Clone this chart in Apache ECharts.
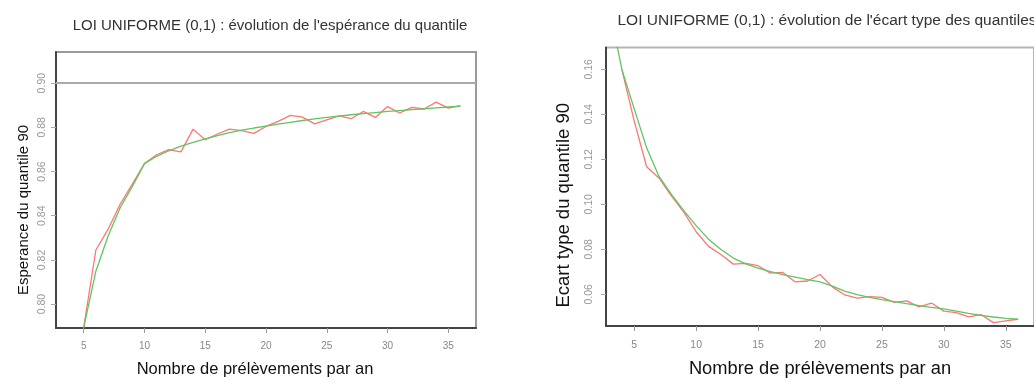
<!DOCTYPE html>
<html><head><meta charset="utf-8">
<script src="https://cdn.jsdelivr.net/npm/echarts@6/dist/echarts.min.js"></script>
<style>html,body{margin:0;padding:0;background:#fff}#c{width:1034px;height:383px}</style>
</head><body><div id="c"></div>
<script>
// ---- data ----
const leftTitle = "LOI UNIFORME (0,1) : évolution de l'espérance du quantile";
const rightTitle = "LOI UNIFORME (0,1) : évolution de l'écart type des quantiles";
const xName = "Nombre de prélèvements par an";
const leftYName = "Esperance du quantile 90";
const rightYName = "Ecart type du quantile 90";

const xTicks = [5, 10, 15, 20, 25, 30, 35];
const leftYTicks = [0.80, 0.82, 0.84, 0.86, 0.88, 0.90];
const rightYTicks = [0.06, 0.08, 0.10, 0.12, 0.14, 0.16];

const leftX = [5,6,7,8,9,10,11,12,13,14,15,16,17,18,19,20,21,22,23,24,25,26,27,28,29,30,31,32,33,34,35,36];
const leftRed = [0.7894,0.8245,0.8338,0.8452,0.8543,0.8636,0.8676,0.8699,0.8689,0.8792,0.8744,0.8770,0.8792,0.8785,0.8773,0.8804,0.8827,0.8854,0.8846,0.8816,0.8834,0.8852,0.8839,0.8872,0.8845,0.8894,0.8865,0.8890,0.8883,0.8914,0.8887,0.8898];
const leftGreen = [0.7894,0.8149,0.8307,0.8436,0.8533,0.8636,0.8669,0.8694,0.8715,0.8732,0.8748,0.8763,0.8776,0.8787,0.8797,0.8806,0.8815,0.8823,0.8831,0.8838,0.8845,0.8851,0.8857,0.8862,0.8867,0.8872,0.8876,0.8880,0.8884,0.8888,0.8892,0.8896];
const leftRef = [0.90];

const rightRedX = [4,5,6,7,8,9,10,11,12,13,14,15,16,17,18,19,20,21,22,23,24,25,26,27,28,29,30,31,32,33,34,35,36];
const rightRed = [0.160,0.137,0.1167,0.1117,0.1037,0.0965,0.0878,0.0813,0.0777,0.0734,0.0737,0.0727,0.0694,0.0697,0.0655,0.0659,0.0688,0.0633,0.0597,0.0583,0.0590,0.0586,0.0564,0.0571,0.0544,0.0561,0.0525,0.0518,0.0500,0.0510,0.0474,0.0482,0.0489];
const rightGreenX = [3,4,5,6,7,8,9,10,11,12,13,14,15,16,17,18,19,20,21,22,23,24,25,26,27,28,29,30,31,32,33,34,35,36];
const rightGreen = [0.187,0.160,0.1424,0.1251,0.1124,0.1044,0.0972,0.0905,0.0845,0.0799,0.0761,0.0735,0.0716,0.0701,0.0687,0.0676,0.0665,0.0655,0.0636,0.0614,0.0598,0.0586,0.0576,0.0567,0.0558,0.0550,0.0542,0.0535,0.0525,0.0515,0.0506,0.0499,0.0493,0.0489];

// ---- styles ----
const FONT = "Liberation Sans, Arial, sans-serif";
const RED = '#ff7575', GREEN = '#62c462';
const pair = (xs, ys) => xs.map((x, i) => [x, ys[i]]);

function xAxis(gi, fs, nameGap, namePad, lfs, lmargin) {
  return {
    type: 'value', gridIndex: gi, min: 2.72, max: 37.28,
    name: xName, nameLocation: 'middle', nameGap: nameGap,
    nameTextStyle: { fontFamily: FONT, fontSize: fs, color: '#111', padding: namePad },
    axisLine: { show: true, lineStyle: { color: '#444', width: 2 } },
    axisTick: { show: true, length: 5, lineStyle: { color: '#999', width: 1 }, customValues: xTicks },
    axisLabel: { fontFamily: FONT, fontSize: lfs, color: '#888', margin: lmargin, customValues: xTicks, formatter: v => String(v) },
    splitLine: { show: false }
  };
}
function yAxis(gi, name, ticks, min, max, fs, nameGap, namePad, margin) {
  return {
    type: 'value', gridIndex: gi, min: min, max: max,
    name: name, nameLocation: 'middle', nameGap: nameGap,
    nameTextStyle: { fontFamily: FONT, fontSize: fs, color: '#111', padding: namePad },
    axisLine: { show: true, lineStyle: { color: '#444', width: 2 } },
    axisTick: { show: true, length: 5, lineStyle: { color: '#aaa', width: 1 }, customValues: ticks },
    axisLabel: { rotate: 90, fontFamily: FONT, fontSize: 10.5, color: '#999', margin: margin, customValues: ticks, formatter: v => v.toFixed(2) },
    splitLine: { show: false }
  };
}

const chart = echarts.init(document.getElementById('c'), null, { renderer: 'canvas' });
chart.setOption({
  animation: false,
  backgroundColor: '#fff',
  title: [
    { text: leftTitle, left: 265, top: 13, textAlign: 'center',
      textStyle: { fontFamily: FONT, fontSize: 15, fontWeight: 'normal', color: '#333' } },
    { text: rightTitle, left: 822, top: 8, textAlign: 'center',
      textStyle: { fontFamily: FONT, fontSize: 15.5, fontWeight: 'normal', color: '#333' } }
  ],
  grid: [
    { left: 56, top: 52, width: 420, height: 277, show: true, borderColor: '#9a9a9a', borderWidth: 2, backgroundColor: 'transparent' },
    { left: 606, top: 47.5, width: 432.5, height: 286, show: true, borderColor: '#b5b5b5', borderWidth: 2, backgroundColor: 'transparent' }
  ],
  xAxis: [ xAxis(0, 16.5, 33, [0, 22, 0, 0], 10, 13), xAxis(1, 18.3, 34, [0, 0, 0, 0], 10.5, 14) ],
  yAxis: [
    yAxis(0, leftYName, leftYTicks, 0.7892, 0.9141, 15, 25, [0, 40, 0, 0], 8),
    yAxis(1, rightYName, rightYTicks, 0.0459, 0.1697, 18.5, 33, [0, 37, 0, 0], 11)
  ],
  series: [
    { type: 'line', xAxisIndex: 0, yAxisIndex: 0, data: pair(leftX, leftRed), showSymbol: false,
      lineStyle: { color: RED, width: 1.3 }, z: 2,
      markLine: { silent: true, symbol: 'none', label: { show: false },
        lineStyle: { color: '#ababab', width: 2, type: 'solid' },
        data: leftRef.map(v => ({ yAxis: v })) } },
    { type: 'line', xAxisIndex: 0, yAxisIndex: 0, data: pair(leftX, leftGreen), showSymbol: false,
      lineStyle: { color: GREEN, width: 1.3 }, z: 3 },
    { type: 'line', xAxisIndex: 1, yAxisIndex: 1, data: pair(rightRedX, rightRed), showSymbol: false,
      lineStyle: { color: RED, width: 1.3 }, z: 2 },
    { type: 'line', xAxisIndex: 1, yAxisIndex: 1, data: pair(rightGreenX, rightGreen), showSymbol: false,
      lineStyle: { color: GREEN, width: 1.3 }, z: 3, clip: true }
  ]
});
</script>
</body></html>
